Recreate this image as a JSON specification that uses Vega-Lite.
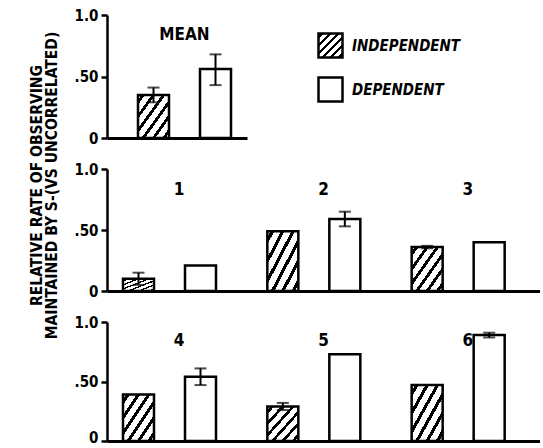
{
  "$schema": "https://vega.github.io/schema/vega-lite/v6.json",
  "padding": {"left": 29, "top": 8, "right": 0, "bottom": 0},
  "background": "white",
  "spacing": 16,
  "title": {
    "text": ["RELATIVE RATE OF OBSERVING", "MAINTAINED BY S-(VS UNCORRELATED)"],
    "orient": "left",
    "anchor": "middle",
    "font": "DejaVu Sans Condensed",
    "fontSize": 15.5,
    "fontWeight": "bold",
    "lineHeight": 15,
    "color": "black",
    "offset": 14,
    "dx": 41
  },
  "config": {
    "font": "DejaVu Sans Condensed",
    "view": {"stroke": null},
    "axis": {
      "labelFont": "DejaVu Sans Condensed",
      "labelFontSize": 15,
      "labelFontWeight": "bold",
      "labelColor": "black",
      "domainColor": "black",
      "domainWidth": 2.5,
      "tickColor": "black",
      "tickWidth": 2.5,
      "tickSize": 6,
      "labelPadding": 3,
      "grid": false
    }
  },
  "resolve": {"scale": {"fill": "independent"}, "legend": {"fill": "independent"}},
  "datasets": {
    "top": [
      {"g": "MEAN", "cond": "INDEPENDENT", "v": 0.35, "lo": 0.29, "hi": 0.41},
      {"g": "MEAN", "cond": "DEPENDENT", "v": 0.56, "lo": 0.43, "hi": 0.68}
    ],
    "mid": [
      {"g": "1", "cond": "INDEPENDENT", "v": 0.10, "lo": 0.05, "hi": 0.15},
      {"g": "1", "cond": "DEPENDENT", "v": 0.21, "lo": null, "hi": null},
      {"g": "2", "cond": "INDEPENDENT", "v": 0.49, "lo": null, "hi": null},
      {"g": "2", "cond": "DEPENDENT", "v": 0.59, "lo": 0.53, "hi": 0.65},
      {"g": "3", "cond": "INDEPENDENT", "v": 0.36, "lo": 0.35, "hi": 0.37},
      {"g": "3", "cond": "DEPENDENT", "v": 0.40, "lo": null, "hi": null}
    ],
    "bot": [
      {"g": "4", "cond": "INDEPENDENT", "v": 0.39, "lo": null, "hi": null},
      {"g": "4", "cond": "DEPENDENT", "v": 0.54, "lo": 0.47, "hi": 0.61},
      {"g": "5", "cond": "INDEPENDENT", "v": 0.29, "lo": 0.26, "hi": 0.32},
      {"g": "5", "cond": "DEPENDENT", "v": 0.73, "lo": null, "hi": null},
      {"g": "6", "cond": "INDEPENDENT", "v": 0.47, "lo": null, "hi": null},
      {"g": "6", "cond": "DEPENDENT", "v": 0.89, "lo": 0.87, "hi": 0.91}
    ]
  },
  "vconcat": [
    {
      "width": 140,
      "height": 123,
      "data": {"name": "top"},
      "encoding": {
        "x": {"field": "g", "type": "nominal", "sort": null, "scale": {"paddingInner": 0, "paddingOuter": 0.06, "align": 1}, "axis": {"title": null, "labels": false, "ticks": false, "domainWidth": 3}}
      },
      "layer": [
        {
          "mark": {"type": "bar", "stroke": "black", "strokeWidth": 2.5},
          "encoding": {
            "xOffset": {"field": "cond", "type": "nominal", "sort": ["INDEPENDENT", "DEPENDENT"], "scale": {"paddingInner": 0.5, "paddingOuter": 0.258}},
            "y": {"field": "v", "type": "quantitative", "title": null, "scale": {"domain": [0, 1], "nice": false}, "axis": {"values": [0, 0.5, 1], "labelExpr": "datum.value == 0 ? '0' : datum.value == 0.5 ? '.50' : '1.0'"}},
            "fill": {"field": "cond", "type": "nominal", "sort": ["INDEPENDENT", "DEPENDENT"],
              "scale": {"domain": ["INDEPENDENT", "DEPENDENT"], "range": [{"expr": "{gradient:'linear',x1:0,y1:0,x2:1,y2:1,stops:[{offset:0,color:'white'},{offset:0.054,color:'white'},{offset:0.054,color:'black'},{offset:0.112,color:'black'},{offset:0.112,color:'white'},{offset:0.221,color:'white'},{offset:0.221,color:'black'},{offset:0.279,color:'black'},{offset:0.279,color:'white'},{offset:0.387,color:'white'},{offset:0.387,color:'black'},{offset:0.445,color:'black'},{offset:0.445,color:'white'},{offset:0.554,color:'white'},{offset:0.554,color:'black'},{offset:0.612,color:'black'},{offset:0.612,color:'white'},{offset:0.721,color:'white'},{offset:0.721,color:'black'},{offset:0.779,color:'black'},{offset:0.779,color:'white'},{offset:0.887,color:'white'},{offset:0.887,color:'black'},{offset:0.945,color:'black'},{offset:0.945,color:'white'},{offset:1,color:'white'}]}"}, "white"]},
              "legend": {"orient": "none", "legendX": 210, "legendY": 17, "title": null, "padding": 0, "symbolType": "square", "symbolSize": 576, "symbolStrokeWidth": 2.5, "symbolStrokeColor": "black", "labelFont": "DejaVu Sans Condensed", "labelFontSize": 15, "labelFontWeight": "bold", "labelFontStyle": "italic", "labelColor": "black", "labelOffset": 8, "rowPadding": 9}}
          }
        },
        {
          "transform": [{"filter": "datum.lo != null"}],
          "mark": {"type": "rule", "strokeWidth": 2, "color": "black"},
          "encoding": {
            "xOffset": {"field": "cond", "type": "nominal", "sort": ["INDEPENDENT", "DEPENDENT"]},
            "y": {"field": "lo", "type": "quantitative", "title": null},
            "y2": {"field": "hi"}
          }
        },
        {
          "transform": [{"filter": "datum.lo != null"}],
          "mark": {"type": "tick", "thickness": 2, "size": 12, "color": "black"},
          "encoding": {
            "xOffset": {"field": "cond", "type": "nominal", "sort": ["INDEPENDENT", "DEPENDENT"]},
            "y": {"field": "lo", "type": "quantitative", "title": null}
          }
        },
        {
          "transform": [{"filter": "datum.lo != null"}],
          "mark": {"type": "tick", "thickness": 2, "size": 12, "color": "black"},
          "encoding": {
            "xOffset": {"field": "cond", "type": "nominal", "sort": ["INDEPENDENT", "DEPENDENT"]},
            "y": {"field": "hi", "type": "quantitative", "title": null}
          }
        },
        {
          "transform": [{"filter": "datum.cond === 'INDEPENDENT'"}],
          "mark": {"type": "text", "fontSize": 17, "fontWeight": "bold", "color": "black"},
          "encoding": {
            "y": {"datum": 0.84, "type": "quantitative"},
            "text": {"field": "g"}
          }
        }
      ]
    },
    {
      "width": 433,
      "height": 122,
      "data": {"name": "mid"},
      "encoding": {
        "x": {"field": "g", "type": "nominal", "sort": null, "scale": {"paddingInner": 0, "paddingOuter": 0}, "axis": {"title": null, "labels": false, "ticks": false, "domainWidth": 3}}
      },
      "layer": [
        {
          "mark": {"type": "bar", "stroke": "black", "strokeWidth": 2.5},
          "encoding": {
            "xOffset": {"field": "cond", "type": "nominal", "sort": ["INDEPENDENT", "DEPENDENT"], "scale": {"paddingInner": 0.48, "paddingOuter": 0.5}},
            "y": {"field": "v", "type": "quantitative", "title": null, "scale": {"domain": [0, 1], "nice": false}, "axis": {"values": [0, 0.5, 1], "labelExpr": "datum.value == 0 ? '0' : datum.value == 0.5 ? '.50' : '1.0'"}},
            "fill": {"field": "cond", "type": "nominal", "sort": ["INDEPENDENT", "DEPENDENT"],
              "scale": {"domain": ["INDEPENDENT", "DEPENDENT"], "range": [{"expr": "{gradient:'linear',x1:0,y1:0,x2:1,y2:1,stops:[{offset:0,color:'white'},{offset:0.054,color:'white'},{offset:0.054,color:'black'},{offset:0.112,color:'black'},{offset:0.112,color:'white'},{offset:0.221,color:'white'},{offset:0.221,color:'black'},{offset:0.279,color:'black'},{offset:0.279,color:'white'},{offset:0.387,color:'white'},{offset:0.387,color:'black'},{offset:0.445,color:'black'},{offset:0.445,color:'white'},{offset:0.554,color:'white'},{offset:0.554,color:'black'},{offset:0.612,color:'black'},{offset:0.612,color:'white'},{offset:0.721,color:'white'},{offset:0.721,color:'black'},{offset:0.779,color:'black'},{offset:0.779,color:'white'},{offset:0.887,color:'white'},{offset:0.887,color:'black'},{offset:0.945,color:'black'},{offset:0.945,color:'white'},{offset:1,color:'white'}]}"}, "white"]},
              "legend": null}
          }
        },
        {
          "transform": [{"filter": "datum.lo != null"}],
          "mark": {"type": "rule", "strokeWidth": 2, "color": "black"},
          "encoding": {
            "xOffset": {"field": "cond", "type": "nominal", "sort": ["INDEPENDENT", "DEPENDENT"]},
            "y": {"field": "lo", "type": "quantitative", "title": null},
            "y2": {"field": "hi"}
          }
        },
        {
          "transform": [{"filter": "datum.lo != null"}],
          "mark": {"type": "tick", "thickness": 2, "size": 12, "color": "black"},
          "encoding": {
            "xOffset": {"field": "cond", "type": "nominal", "sort": ["INDEPENDENT", "DEPENDENT"]},
            "y": {"field": "lo", "type": "quantitative", "title": null}
          }
        },
        {
          "transform": [{"filter": "datum.lo != null"}],
          "mark": {"type": "tick", "thickness": 2, "size": 12, "color": "black"},
          "encoding": {
            "xOffset": {"field": "cond", "type": "nominal", "sort": ["INDEPENDENT", "DEPENDENT"]},
            "y": {"field": "hi", "type": "quantitative", "title": null}
          }
        },
        {
          "transform": [{"filter": "datum.cond === 'INDEPENDENT'"}],
          "mark": {"type": "text", "fontSize": 17, "fontWeight": "bold", "color": "black"},
          "encoding": {
            "y": {"datum": 0.83, "type": "quantitative"},
            "text": {"field": "g"}
          }
        }
      ]
    },
    {
      "width": 433,
      "height": 119,
      "data": {"name": "bot"},
      "encoding": {
        "x": {"field": "g", "type": "nominal", "sort": null, "scale": {"paddingInner": 0, "paddingOuter": 0}, "axis": {"title": null, "labels": false, "ticks": false, "domainWidth": 3}}
      },
      "layer": [
        {
          "mark": {"type": "bar", "stroke": "black", "strokeWidth": 2.5},
          "encoding": {
            "xOffset": {"field": "cond", "type": "nominal", "sort": ["INDEPENDENT", "DEPENDENT"], "scale": {"paddingInner": 0.48, "paddingOuter": 0.5}},
            "y": {"field": "v", "type": "quantitative", "title": null, "scale": {"domain": [0, 1], "nice": false}, "axis": {"values": [0, 0.5, 1], "labelOffset": {"condition": {"test": "datum.value == 0", "value": -4}, "value": 0}, "labelExpr": "datum.value == 0 ? '0' : datum.value == 0.5 ? '.50' : '1.0'"}},
            "fill": {"field": "cond", "type": "nominal", "sort": ["INDEPENDENT", "DEPENDENT"],
              "scale": {"domain": ["INDEPENDENT", "DEPENDENT"], "range": [{"expr": "{gradient:'linear',x1:0,y1:0,x2:1,y2:1,stops:[{offset:0,color:'white'},{offset:0.054,color:'white'},{offset:0.054,color:'black'},{offset:0.112,color:'black'},{offset:0.112,color:'white'},{offset:0.221,color:'white'},{offset:0.221,color:'black'},{offset:0.279,color:'black'},{offset:0.279,color:'white'},{offset:0.387,color:'white'},{offset:0.387,color:'black'},{offset:0.445,color:'black'},{offset:0.445,color:'white'},{offset:0.554,color:'white'},{offset:0.554,color:'black'},{offset:0.612,color:'black'},{offset:0.612,color:'white'},{offset:0.721,color:'white'},{offset:0.721,color:'black'},{offset:0.779,color:'black'},{offset:0.779,color:'white'},{offset:0.887,color:'white'},{offset:0.887,color:'black'},{offset:0.945,color:'black'},{offset:0.945,color:'white'},{offset:1,color:'white'}]}"}, "white"]},
              "legend": null}
          }
        },
        {
          "transform": [{"filter": "datum.lo != null"}],
          "mark": {"type": "rule", "strokeWidth": 2, "color": "black"},
          "encoding": {
            "xOffset": {"field": "cond", "type": "nominal", "sort": ["INDEPENDENT", "DEPENDENT"]},
            "y": {"field": "lo", "type": "quantitative", "title": null},
            "y2": {"field": "hi"}
          }
        },
        {
          "transform": [{"filter": "datum.lo != null"}],
          "mark": {"type": "tick", "thickness": 2, "size": 12, "color": "black"},
          "encoding": {
            "xOffset": {"field": "cond", "type": "nominal", "sort": ["INDEPENDENT", "DEPENDENT"]},
            "y": {"field": "lo", "type": "quantitative", "title": null}
          }
        },
        {
          "transform": [{"filter": "datum.lo != null"}],
          "mark": {"type": "tick", "thickness": 2, "size": 12, "color": "black"},
          "encoding": {
            "xOffset": {"field": "cond", "type": "nominal", "sort": ["INDEPENDENT", "DEPENDENT"]},
            "y": {"field": "hi", "type": "quantitative", "title": null}
          }
        },
        {
          "transform": [{"filter": "datum.cond === 'INDEPENDENT'"}],
          "mark": {"type": "text", "fontSize": 17, "fontWeight": "bold", "color": "black"},
          "encoding": {
            "y": {"datum": 0.84, "type": "quantitative"},
            "text": {"field": "g"}
          }
        }
      ]
    }
  ]
}
